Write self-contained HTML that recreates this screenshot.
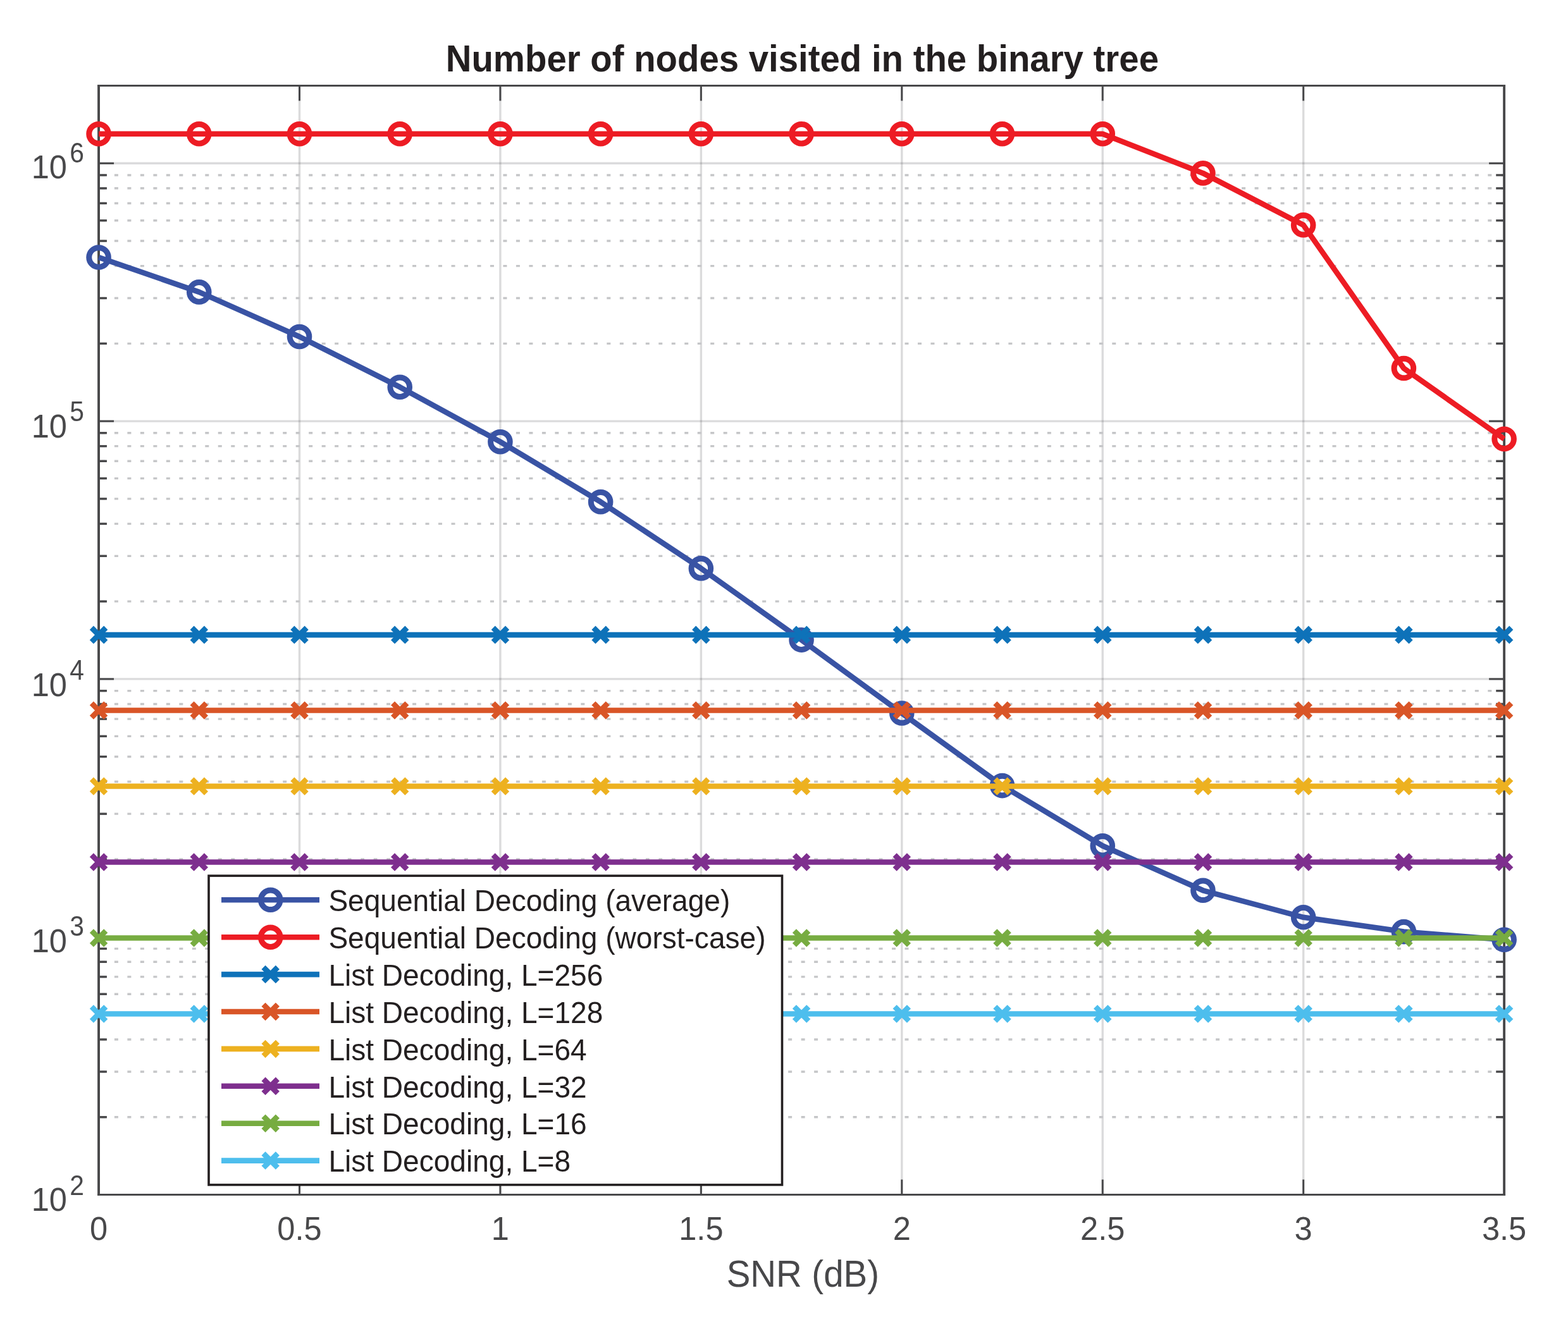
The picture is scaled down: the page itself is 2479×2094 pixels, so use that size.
<!DOCTYPE html>
<html lang="en">
<head>
<meta charset="utf-8">
<title>Number of nodes visited in the binary tree</title>
<style>
html,body{margin:0;padding:0;background:#fff;}
body{width:2479px;height:2094px;overflow:hidden;}
svg{display:block;}
text{font-family:"Liberation Sans", Arial, Helvetica, sans-serif;white-space:pre;}
</style>
</head>
<body>
<svg width="2479" height="2094" viewBox="0 0 2479 2094">
<rect x="0" y="0" width="2479" height="2094" fill="#ffffff"/>
<g stroke="#2a2c30" stroke-opacity="0.17" stroke-width="3.4" fill="none">
<line x1="473.49" y1="135.40" x2="473.49" y2="1889.55"/>
<line x1="790.92" y1="135.40" x2="790.92" y2="1889.55"/>
<line x1="1108.36" y1="135.40" x2="1108.36" y2="1889.55"/>
<line x1="1425.79" y1="135.40" x2="1425.79" y2="1889.55"/>
<line x1="1743.23" y1="135.40" x2="1743.23" y2="1889.55"/>
<line x1="2060.66" y1="135.40" x2="2060.66" y2="1889.55"/>
<line x1="156.05" y1="1481.74" x2="2378.10" y2="1481.74"/>
<line x1="156.05" y1="1073.92" x2="2378.10" y2="1073.92"/>
<line x1="156.05" y1="666.11" x2="2378.10" y2="666.11"/>
<line x1="156.05" y1="258.30" x2="2378.10" y2="258.30"/>
</g>
<g stroke="#c5c6c8" stroke-width="3.4" fill="none" stroke-dasharray="6.000 14.485" stroke-dashoffset="16.120">
<line x1="156.05" y1="1766.79" x2="2378.10" y2="1766.79"/>
<line x1="156.05" y1="1694.97" x2="2378.10" y2="1694.97"/>
<line x1="156.05" y1="1644.02" x2="2378.10" y2="1644.02"/>
<line x1="156.05" y1="1604.50" x2="2378.10" y2="1604.50"/>
<line x1="156.05" y1="1572.21" x2="2378.10" y2="1572.21"/>
<line x1="156.05" y1="1544.91" x2="2378.10" y2="1544.91"/>
<line x1="156.05" y1="1521.26" x2="2378.10" y2="1521.26"/>
<line x1="156.05" y1="1500.40" x2="2378.10" y2="1500.40"/>
<line x1="156.05" y1="1358.97" x2="2378.10" y2="1358.97"/>
<line x1="156.05" y1="1287.16" x2="2378.10" y2="1287.16"/>
<line x1="156.05" y1="1236.21" x2="2378.10" y2="1236.21"/>
<line x1="156.05" y1="1196.69" x2="2378.10" y2="1196.69"/>
<line x1="156.05" y1="1164.40" x2="2378.10" y2="1164.40"/>
<line x1="156.05" y1="1137.10" x2="2378.10" y2="1137.10"/>
<line x1="156.05" y1="1113.45" x2="2378.10" y2="1113.45"/>
<line x1="156.05" y1="1092.59" x2="2378.10" y2="1092.59"/>
<line x1="156.05" y1="951.16" x2="2378.10" y2="951.16"/>
<line x1="156.05" y1="879.35" x2="2378.10" y2="879.35"/>
<line x1="156.05" y1="828.40" x2="2378.10" y2="828.40"/>
<line x1="156.05" y1="788.88" x2="2378.10" y2="788.88"/>
<line x1="156.05" y1="756.59" x2="2378.10" y2="756.59"/>
<line x1="156.05" y1="729.28" x2="2378.10" y2="729.28"/>
<line x1="156.05" y1="705.63" x2="2378.10" y2="705.63"/>
<line x1="156.05" y1="684.77" x2="2378.10" y2="684.77"/>
<line x1="156.05" y1="543.35" x2="2378.10" y2="543.35"/>
<line x1="156.05" y1="471.54" x2="2378.10" y2="471.54"/>
<line x1="156.05" y1="420.58" x2="2378.10" y2="420.58"/>
<line x1="156.05" y1="381.06" x2="2378.10" y2="381.06"/>
<line x1="156.05" y1="348.77" x2="2378.10" y2="348.77"/>
<line x1="156.05" y1="321.47" x2="2378.10" y2="321.47"/>
<line x1="156.05" y1="297.82" x2="2378.10" y2="297.82"/>
<line x1="156.05" y1="276.96" x2="2378.10" y2="276.96"/>
</g>
<g stroke="#48484a" stroke-width="3.0" fill="none">
<line x1="473.49" y1="1889.55" x2="473.49" y2="1865.55"/>
<line x1="473.49" y1="135.40" x2="473.49" y2="159.40"/>
<line x1="790.92" y1="1889.55" x2="790.92" y2="1865.55"/>
<line x1="790.92" y1="135.40" x2="790.92" y2="159.40"/>
<line x1="1108.36" y1="1889.55" x2="1108.36" y2="1865.55"/>
<line x1="1108.36" y1="135.40" x2="1108.36" y2="159.40"/>
<line x1="1425.79" y1="1889.55" x2="1425.79" y2="1865.55"/>
<line x1="1425.79" y1="135.40" x2="1425.79" y2="159.40"/>
<line x1="1743.23" y1="1889.55" x2="1743.23" y2="1865.55"/>
<line x1="1743.23" y1="135.40" x2="1743.23" y2="159.40"/>
<line x1="2060.66" y1="1889.55" x2="2060.66" y2="1865.55"/>
<line x1="2060.66" y1="135.40" x2="2060.66" y2="159.40"/>
<line x1="156.05" y1="1481.74" x2="180.05" y2="1481.74"/>
<line x1="2378.10" y1="1481.74" x2="2354.10" y2="1481.74"/>
<line x1="156.05" y1="1073.92" x2="180.05" y2="1073.92"/>
<line x1="2378.10" y1="1073.92" x2="2354.10" y2="1073.92"/>
<line x1="156.05" y1="666.11" x2="180.05" y2="666.11"/>
<line x1="2378.10" y1="666.11" x2="2354.10" y2="666.11"/>
<line x1="156.05" y1="258.30" x2="180.05" y2="258.30"/>
<line x1="2378.10" y1="258.30" x2="2354.10" y2="258.30"/>
</g>
<g stroke="#48484a" stroke-width="3.4" fill="none">
<line x1="156.05" y1="1766.79" x2="168.95" y2="1766.79"/>
<line x1="2378.10" y1="1766.79" x2="2365.20" y2="1766.79"/>
<line x1="156.05" y1="1694.97" x2="168.95" y2="1694.97"/>
<line x1="2378.10" y1="1694.97" x2="2365.20" y2="1694.97"/>
<line x1="156.05" y1="1644.02" x2="168.95" y2="1644.02"/>
<line x1="2378.10" y1="1644.02" x2="2365.20" y2="1644.02"/>
<line x1="156.05" y1="1604.50" x2="168.95" y2="1604.50"/>
<line x1="2378.10" y1="1604.50" x2="2365.20" y2="1604.50"/>
<line x1="156.05" y1="1572.21" x2="168.95" y2="1572.21"/>
<line x1="2378.10" y1="1572.21" x2="2365.20" y2="1572.21"/>
<line x1="156.05" y1="1544.91" x2="168.95" y2="1544.91"/>
<line x1="2378.10" y1="1544.91" x2="2365.20" y2="1544.91"/>
<line x1="156.05" y1="1521.26" x2="168.95" y2="1521.26"/>
<line x1="2378.10" y1="1521.26" x2="2365.20" y2="1521.26"/>
<line x1="156.05" y1="1500.40" x2="168.95" y2="1500.40"/>
<line x1="2378.10" y1="1500.40" x2="2365.20" y2="1500.40"/>
<line x1="156.05" y1="1358.97" x2="168.95" y2="1358.97"/>
<line x1="2378.10" y1="1358.97" x2="2365.20" y2="1358.97"/>
<line x1="156.05" y1="1287.16" x2="168.95" y2="1287.16"/>
<line x1="2378.10" y1="1287.16" x2="2365.20" y2="1287.16"/>
<line x1="156.05" y1="1236.21" x2="168.95" y2="1236.21"/>
<line x1="2378.10" y1="1236.21" x2="2365.20" y2="1236.21"/>
<line x1="156.05" y1="1196.69" x2="168.95" y2="1196.69"/>
<line x1="2378.10" y1="1196.69" x2="2365.20" y2="1196.69"/>
<line x1="156.05" y1="1164.40" x2="168.95" y2="1164.40"/>
<line x1="2378.10" y1="1164.40" x2="2365.20" y2="1164.40"/>
<line x1="156.05" y1="1137.10" x2="168.95" y2="1137.10"/>
<line x1="2378.10" y1="1137.10" x2="2365.20" y2="1137.10"/>
<line x1="156.05" y1="1113.45" x2="168.95" y2="1113.45"/>
<line x1="2378.10" y1="1113.45" x2="2365.20" y2="1113.45"/>
<line x1="156.05" y1="1092.59" x2="168.95" y2="1092.59"/>
<line x1="2378.10" y1="1092.59" x2="2365.20" y2="1092.59"/>
<line x1="156.05" y1="951.16" x2="168.95" y2="951.16"/>
<line x1="2378.10" y1="951.16" x2="2365.20" y2="951.16"/>
<line x1="156.05" y1="879.35" x2="168.95" y2="879.35"/>
<line x1="2378.10" y1="879.35" x2="2365.20" y2="879.35"/>
<line x1="156.05" y1="828.40" x2="168.95" y2="828.40"/>
<line x1="2378.10" y1="828.40" x2="2365.20" y2="828.40"/>
<line x1="156.05" y1="788.88" x2="168.95" y2="788.88"/>
<line x1="2378.10" y1="788.88" x2="2365.20" y2="788.88"/>
<line x1="156.05" y1="756.59" x2="168.95" y2="756.59"/>
<line x1="2378.10" y1="756.59" x2="2365.20" y2="756.59"/>
<line x1="156.05" y1="729.28" x2="168.95" y2="729.28"/>
<line x1="2378.10" y1="729.28" x2="2365.20" y2="729.28"/>
<line x1="156.05" y1="705.63" x2="168.95" y2="705.63"/>
<line x1="2378.10" y1="705.63" x2="2365.20" y2="705.63"/>
<line x1="156.05" y1="684.77" x2="168.95" y2="684.77"/>
<line x1="2378.10" y1="684.77" x2="2365.20" y2="684.77"/>
<line x1="156.05" y1="543.35" x2="168.95" y2="543.35"/>
<line x1="2378.10" y1="543.35" x2="2365.20" y2="543.35"/>
<line x1="156.05" y1="471.54" x2="168.95" y2="471.54"/>
<line x1="2378.10" y1="471.54" x2="2365.20" y2="471.54"/>
<line x1="156.05" y1="420.58" x2="168.95" y2="420.58"/>
<line x1="2378.10" y1="420.58" x2="2365.20" y2="420.58"/>
<line x1="156.05" y1="381.06" x2="168.95" y2="381.06"/>
<line x1="2378.10" y1="381.06" x2="2365.20" y2="381.06"/>
<line x1="156.05" y1="348.77" x2="168.95" y2="348.77"/>
<line x1="2378.10" y1="348.77" x2="2365.20" y2="348.77"/>
<line x1="156.05" y1="321.47" x2="168.95" y2="321.47"/>
<line x1="2378.10" y1="321.47" x2="2365.20" y2="321.47"/>
<line x1="156.05" y1="297.82" x2="168.95" y2="297.82"/>
<line x1="2378.10" y1="297.82" x2="2365.20" y2="297.82"/>
<line x1="156.05" y1="276.96" x2="168.95" y2="276.96"/>
<line x1="2378.10" y1="276.96" x2="2365.20" y2="276.96"/>
</g>
<g stroke="#48484a" fill="none">
<line x1="154.10" y1="135.40" x2="2380.05" y2="135.40" stroke-width="3.00"/>
<line x1="154.10" y1="1889.55" x2="2380.05" y2="1889.55" stroke-width="3.00"/>
<line x1="156.05" y1="133.90" x2="156.05" y2="1891.05" stroke-width="3.90"/>
<line x1="2378.10" y1="133.90" x2="2378.10" y2="1891.05" stroke-width="3.90"/>
</g>
<g stroke="#3953a4" fill="none">
<polyline points="156.05,407.00 314.77,461.90 473.49,532.50 632.20,612.20 790.92,698.70 949.64,793.80 1108.36,898.90 1267.07,1012.10 1425.79,1128.00 1584.51,1242.60 1743.23,1337.70 1901.95,1408.30 2060.66,1450.80 2219.38,1473.60 2378.10,1486.20" stroke-width="8.60" stroke-linejoin="round"/>
<circle cx="156.05" cy="407.00" r="15.30" stroke-width="9.00"/>
<circle cx="314.77" cy="461.90" r="15.30" stroke-width="9.00"/>
<circle cx="473.49" cy="532.50" r="15.30" stroke-width="9.00"/>
<circle cx="632.20" cy="612.20" r="15.30" stroke-width="9.00"/>
<circle cx="790.92" cy="698.70" r="15.30" stroke-width="9.00"/>
<circle cx="949.64" cy="793.80" r="15.30" stroke-width="9.00"/>
<circle cx="1108.36" cy="898.90" r="15.30" stroke-width="9.00"/>
<circle cx="1267.07" cy="1012.10" r="15.30" stroke-width="9.00"/>
<circle cx="1425.79" cy="1128.00" r="15.30" stroke-width="9.00"/>
<circle cx="1584.51" cy="1242.60" r="15.30" stroke-width="9.00"/>
<circle cx="1743.23" cy="1337.70" r="15.30" stroke-width="9.00"/>
<circle cx="1901.95" cy="1408.30" r="15.30" stroke-width="9.00"/>
<circle cx="2060.66" cy="1450.80" r="15.30" stroke-width="9.00"/>
<circle cx="2219.38" cy="1473.60" r="15.30" stroke-width="9.00"/>
<circle cx="2378.10" cy="1486.20" r="15.30" stroke-width="9.00"/>
</g>
<g stroke="#ed1c24" fill="none">
<polyline points="156.05,211.70 314.77,211.70 473.49,211.70 632.20,211.70 790.92,211.70 949.64,211.70 1108.36,211.70 1267.07,211.70 1425.79,211.70 1584.51,211.70 1743.23,211.70 1901.95,273.90 2060.66,355.90 2219.38,582.50 2378.10,694.20" stroke-width="8.60" stroke-linejoin="round"/>
<circle cx="156.05" cy="211.70" r="15.30" stroke-width="9.00"/>
<circle cx="314.77" cy="211.70" r="15.30" stroke-width="9.00"/>
<circle cx="473.49" cy="211.70" r="15.30" stroke-width="9.00"/>
<circle cx="632.20" cy="211.70" r="15.30" stroke-width="9.00"/>
<circle cx="790.92" cy="211.70" r="15.30" stroke-width="9.00"/>
<circle cx="949.64" cy="211.70" r="15.30" stroke-width="9.00"/>
<circle cx="1108.36" cy="211.70" r="15.30" stroke-width="9.00"/>
<circle cx="1267.07" cy="211.70" r="15.30" stroke-width="9.00"/>
<circle cx="1425.79" cy="211.70" r="15.30" stroke-width="9.00"/>
<circle cx="1584.51" cy="211.70" r="15.30" stroke-width="9.00"/>
<circle cx="1743.23" cy="211.70" r="15.30" stroke-width="9.00"/>
<circle cx="1901.95" cy="273.90" r="15.30" stroke-width="9.00"/>
<circle cx="2060.66" cy="355.90" r="15.30" stroke-width="9.00"/>
<circle cx="2219.38" cy="582.50" r="15.30" stroke-width="9.00"/>
<circle cx="2378.10" cy="694.20" r="15.30" stroke-width="9.00"/>
</g>
<g stroke="#0e72b9" fill="none" stroke-width="8.60">
<line x1="156.05" y1="1004.10" x2="2378.10" y2="1004.10"/>
<path d="M144.85 992.90L167.25 1015.30M144.85 1015.30L167.25 992.90"/>
<path d="M303.57 992.90L325.97 1015.30M303.57 1015.30L325.97 992.90"/>
<path d="M462.29 992.90L484.69 1015.30M462.29 1015.30L484.69 992.90"/>
<path d="M621.00 992.90L643.40 1015.30M621.00 1015.30L643.40 992.90"/>
<path d="M779.72 992.90L802.12 1015.30M779.72 1015.30L802.12 992.90"/>
<path d="M938.44 992.90L960.84 1015.30M938.44 1015.30L960.84 992.90"/>
<path d="M1097.16 992.90L1119.56 1015.30M1097.16 1015.30L1119.56 992.90"/>
<path d="M1255.87 992.90L1278.27 1015.30M1255.87 1015.30L1278.27 992.90"/>
<path d="M1414.59 992.90L1436.99 1015.30M1414.59 1015.30L1436.99 992.90"/>
<path d="M1573.31 992.90L1595.71 1015.30M1573.31 1015.30L1595.71 992.90"/>
<path d="M1732.03 992.90L1754.43 1015.30M1732.03 1015.30L1754.43 992.90"/>
<path d="M1890.75 992.90L1913.15 1015.30M1890.75 1015.30L1913.15 992.90"/>
<path d="M2049.46 992.90L2071.86 1015.30M2049.46 1015.30L2071.86 992.90"/>
<path d="M2208.18 992.90L2230.58 1015.30M2208.18 1015.30L2230.58 992.90"/>
<path d="M2366.90 992.90L2389.30 1015.30M2366.90 1015.30L2389.30 992.90"/>
</g>
<g stroke="#d95527" fill="none" stroke-width="8.60">
<line x1="156.05" y1="1123.50" x2="2378.10" y2="1123.50"/>
<path d="M144.85 1112.30L167.25 1134.70M144.85 1134.70L167.25 1112.30"/>
<path d="M303.57 1112.30L325.97 1134.70M303.57 1134.70L325.97 1112.30"/>
<path d="M462.29 1112.30L484.69 1134.70M462.29 1134.70L484.69 1112.30"/>
<path d="M621.00 1112.30L643.40 1134.70M621.00 1134.70L643.40 1112.30"/>
<path d="M779.72 1112.30L802.12 1134.70M779.72 1134.70L802.12 1112.30"/>
<path d="M938.44 1112.30L960.84 1134.70M938.44 1134.70L960.84 1112.30"/>
<path d="M1097.16 1112.30L1119.56 1134.70M1097.16 1134.70L1119.56 1112.30"/>
<path d="M1255.87 1112.30L1278.27 1134.70M1255.87 1134.70L1278.27 1112.30"/>
<path d="M1414.59 1112.30L1436.99 1134.70M1414.59 1134.70L1436.99 1112.30"/>
<path d="M1573.31 1112.30L1595.71 1134.70M1573.31 1134.70L1595.71 1112.30"/>
<path d="M1732.03 1112.30L1754.43 1134.70M1732.03 1134.70L1754.43 1112.30"/>
<path d="M1890.75 1112.30L1913.15 1134.70M1890.75 1134.70L1913.15 1112.30"/>
<path d="M2049.46 1112.30L2071.86 1134.70M2049.46 1134.70L2071.86 1112.30"/>
<path d="M2208.18 1112.30L2230.58 1134.70M2208.18 1134.70L2230.58 1112.30"/>
<path d="M2366.90 1112.30L2389.30 1134.70M2366.90 1134.70L2389.30 1112.30"/>
</g>
<g stroke="#edb120" fill="none" stroke-width="8.60">
<line x1="156.05" y1="1243.50" x2="2378.10" y2="1243.50"/>
<path d="M144.85 1232.30L167.25 1254.70M144.85 1254.70L167.25 1232.30"/>
<path d="M303.57 1232.30L325.97 1254.70M303.57 1254.70L325.97 1232.30"/>
<path d="M462.29 1232.30L484.69 1254.70M462.29 1254.70L484.69 1232.30"/>
<path d="M621.00 1232.30L643.40 1254.70M621.00 1254.70L643.40 1232.30"/>
<path d="M779.72 1232.30L802.12 1254.70M779.72 1254.70L802.12 1232.30"/>
<path d="M938.44 1232.30L960.84 1254.70M938.44 1254.70L960.84 1232.30"/>
<path d="M1097.16 1232.30L1119.56 1254.70M1097.16 1254.70L1119.56 1232.30"/>
<path d="M1255.87 1232.30L1278.27 1254.70M1255.87 1254.70L1278.27 1232.30"/>
<path d="M1414.59 1232.30L1436.99 1254.70M1414.59 1254.70L1436.99 1232.30"/>
<path d="M1573.31 1232.30L1595.71 1254.70M1573.31 1254.70L1595.71 1232.30"/>
<path d="M1732.03 1232.30L1754.43 1254.70M1732.03 1254.70L1754.43 1232.30"/>
<path d="M1890.75 1232.30L1913.15 1254.70M1890.75 1254.70L1913.15 1232.30"/>
<path d="M2049.46 1232.30L2071.86 1254.70M2049.46 1254.70L2071.86 1232.30"/>
<path d="M2208.18 1232.30L2230.58 1254.70M2208.18 1254.70L2230.58 1232.30"/>
<path d="M2366.90 1232.30L2389.30 1254.70M2366.90 1254.70L2389.30 1232.30"/>
</g>
<g stroke="#7e2f8e" fill="none" stroke-width="8.60">
<line x1="156.05" y1="1363.50" x2="2378.10" y2="1363.50"/>
<path d="M144.85 1352.30L167.25 1374.70M144.85 1374.70L167.25 1352.30"/>
<path d="M303.57 1352.30L325.97 1374.70M303.57 1374.70L325.97 1352.30"/>
<path d="M462.29 1352.30L484.69 1374.70M462.29 1374.70L484.69 1352.30"/>
<path d="M621.00 1352.30L643.40 1374.70M621.00 1374.70L643.40 1352.30"/>
<path d="M779.72 1352.30L802.12 1374.70M779.72 1374.70L802.12 1352.30"/>
<path d="M938.44 1352.30L960.84 1374.70M938.44 1374.70L960.84 1352.30"/>
<path d="M1097.16 1352.30L1119.56 1374.70M1097.16 1374.70L1119.56 1352.30"/>
<path d="M1255.87 1352.30L1278.27 1374.70M1255.87 1374.70L1278.27 1352.30"/>
<path d="M1414.59 1352.30L1436.99 1374.70M1414.59 1374.70L1436.99 1352.30"/>
<path d="M1573.31 1352.30L1595.71 1374.70M1573.31 1374.70L1595.71 1352.30"/>
<path d="M1732.03 1352.30L1754.43 1374.70M1732.03 1374.70L1754.43 1352.30"/>
<path d="M1890.75 1352.30L1913.15 1374.70M1890.75 1374.70L1913.15 1352.30"/>
<path d="M2049.46 1352.30L2071.86 1374.70M2049.46 1374.70L2071.86 1352.30"/>
<path d="M2208.18 1352.30L2230.58 1374.70M2208.18 1374.70L2230.58 1352.30"/>
<path d="M2366.90 1352.30L2389.30 1374.70M2366.90 1374.70L2389.30 1352.30"/>
</g>
<g stroke="#77ac41" fill="none" stroke-width="8.60">
<line x1="156.05" y1="1483.50" x2="2378.10" y2="1483.50"/>
<path d="M144.85 1472.30L167.25 1494.70M144.85 1494.70L167.25 1472.30"/>
<path d="M303.57 1472.30L325.97 1494.70M303.57 1494.70L325.97 1472.30"/>
<path d="M462.29 1472.30L484.69 1494.70M462.29 1494.70L484.69 1472.30"/>
<path d="M621.00 1472.30L643.40 1494.70M621.00 1494.70L643.40 1472.30"/>
<path d="M779.72 1472.30L802.12 1494.70M779.72 1494.70L802.12 1472.30"/>
<path d="M938.44 1472.30L960.84 1494.70M938.44 1494.70L960.84 1472.30"/>
<path d="M1097.16 1472.30L1119.56 1494.70M1097.16 1494.70L1119.56 1472.30"/>
<path d="M1255.87 1472.30L1278.27 1494.70M1255.87 1494.70L1278.27 1472.30"/>
<path d="M1414.59 1472.30L1436.99 1494.70M1414.59 1494.70L1436.99 1472.30"/>
<path d="M1573.31 1472.30L1595.71 1494.70M1573.31 1494.70L1595.71 1472.30"/>
<path d="M1732.03 1472.30L1754.43 1494.70M1732.03 1494.70L1754.43 1472.30"/>
<path d="M1890.75 1472.30L1913.15 1494.70M1890.75 1494.70L1913.15 1472.30"/>
<path d="M2049.46 1472.30L2071.86 1494.70M2049.46 1494.70L2071.86 1472.30"/>
<path d="M2208.18 1472.30L2230.58 1494.70M2208.18 1494.70L2230.58 1472.30"/>
<path d="M2366.90 1472.30L2389.30 1494.70M2366.90 1494.70L2389.30 1472.30"/>
</g>
<g stroke="#4dbeed" fill="none" stroke-width="8.60">
<line x1="156.05" y1="1603.50" x2="2378.10" y2="1603.50"/>
<path d="M144.85 1592.30L167.25 1614.70M144.85 1614.70L167.25 1592.30"/>
<path d="M303.57 1592.30L325.97 1614.70M303.57 1614.70L325.97 1592.30"/>
<path d="M462.29 1592.30L484.69 1614.70M462.29 1614.70L484.69 1592.30"/>
<path d="M621.00 1592.30L643.40 1614.70M621.00 1614.70L643.40 1592.30"/>
<path d="M779.72 1592.30L802.12 1614.70M779.72 1614.70L802.12 1592.30"/>
<path d="M938.44 1592.30L960.84 1614.70M938.44 1614.70L960.84 1592.30"/>
<path d="M1097.16 1592.30L1119.56 1614.70M1097.16 1614.70L1119.56 1592.30"/>
<path d="M1255.87 1592.30L1278.27 1614.70M1255.87 1614.70L1278.27 1592.30"/>
<path d="M1414.59 1592.30L1436.99 1614.70M1414.59 1614.70L1436.99 1592.30"/>
<path d="M1573.31 1592.30L1595.71 1614.70M1573.31 1614.70L1595.71 1592.30"/>
<path d="M1732.03 1592.30L1754.43 1614.70M1732.03 1614.70L1754.43 1592.30"/>
<path d="M1890.75 1592.30L1913.15 1614.70M1890.75 1614.70L1913.15 1592.30"/>
<path d="M2049.46 1592.30L2071.86 1614.70M2049.46 1614.70L2071.86 1592.30"/>
<path d="M2208.18 1592.30L2230.58 1614.70M2208.18 1614.70L2230.58 1592.30"/>
<path d="M2366.90 1592.30L2389.30 1614.70M2366.90 1614.70L2389.30 1592.30"/>
</g>
<rect x="330.00" y="1385.10" width="906.50" height="488.80" fill="#ffffff" stroke="#231f20" stroke-width="3.6"/>
<g stroke="#3953a4" fill="none" stroke-width="8.60">
<line x1="350.00" y1="1423.30" x2="505.00" y2="1423.30"/>
<circle cx="427.70" cy="1423.30" r="15.30" stroke-width="9.00"/>
</g>
<text x="519.40" y="1441.05" font-size="47.80" fill="#231f20" textLength="634.88" lengthAdjust="spacingAndGlyphs">Sequential Decoding (average)</text>
<g stroke="#ed1c24" fill="none" stroke-width="8.60">
<line x1="350.00" y1="1482.20" x2="505.00" y2="1482.20"/>
<circle cx="427.70" cy="1482.20" r="15.30" stroke-width="9.00"/>
</g>
<text x="519.40" y="1499.95" font-size="47.80" fill="#231f20" textLength="691.09" lengthAdjust="spacingAndGlyphs">Sequential Decoding (worst-case)</text>
<g stroke="#0e72b9" fill="none" stroke-width="8.60">
<line x1="350.00" y1="1541.10" x2="505.00" y2="1541.10"/>
<path d="M416.50 1529.90L438.90 1552.30M416.50 1552.30L438.90 1529.90"/>
</g>
<text x="519.40" y="1558.85" font-size="47.80" fill="#231f20" textLength="433.95" lengthAdjust="spacingAndGlyphs">List Decoding, L=256</text>
<g stroke="#d95527" fill="none" stroke-width="8.60">
<line x1="350.00" y1="1600.00" x2="505.00" y2="1600.00"/>
<path d="M416.50 1588.80L438.90 1611.20M416.50 1611.20L438.90 1588.80"/>
</g>
<text x="519.40" y="1617.75" font-size="47.80" fill="#231f20" textLength="433.95" lengthAdjust="spacingAndGlyphs">List Decoding, L=128</text>
<g stroke="#edb120" fill="none" stroke-width="8.60">
<line x1="350.00" y1="1658.90" x2="505.00" y2="1658.90"/>
<path d="M416.50 1647.70L438.90 1670.10M416.50 1670.10L438.90 1647.70"/>
</g>
<text x="519.40" y="1676.65" font-size="47.80" fill="#231f20" textLength="408.34" lengthAdjust="spacingAndGlyphs">List Decoding, L=64</text>
<g stroke="#7e2f8e" fill="none" stroke-width="8.60">
<line x1="350.00" y1="1717.80" x2="505.00" y2="1717.80"/>
<path d="M416.50 1706.60L438.90 1729.00M416.50 1729.00L438.90 1706.60"/>
</g>
<text x="519.40" y="1735.55" font-size="47.80" fill="#231f20" textLength="408.34" lengthAdjust="spacingAndGlyphs">List Decoding, L=32</text>
<g stroke="#77ac41" fill="none" stroke-width="8.60">
<line x1="350.00" y1="1776.70" x2="505.00" y2="1776.70"/>
<path d="M416.50 1765.50L438.90 1787.90M416.50 1787.90L438.90 1765.50"/>
</g>
<text x="519.40" y="1794.45" font-size="47.80" fill="#231f20" textLength="408.34" lengthAdjust="spacingAndGlyphs">List Decoding, L=16</text>
<g stroke="#4dbeed" fill="none" stroke-width="8.60">
<line x1="350.00" y1="1835.60" x2="505.00" y2="1835.60"/>
<path d="M416.50 1824.40L438.90 1846.80M416.50 1846.80L438.90 1824.40"/>
</g>
<text x="519.40" y="1853.35" font-size="47.80" fill="#231f20" textLength="382.73" lengthAdjust="spacingAndGlyphs">List Decoding, L=8</text>
<text x="141.98" y="1961.10" font-size="52.00" fill="#48484a" textLength="28.14" lengthAdjust="spacingAndGlyphs">0</text>
<text x="438.31" y="1961.10" font-size="52.00" fill="#48484a" textLength="70.34" lengthAdjust="spacingAndGlyphs">0.5</text>
<text x="776.85" y="1961.10" font-size="52.00" fill="#48484a" textLength="28.14" lengthAdjust="spacingAndGlyphs">1</text>
<text x="1073.19" y="1961.10" font-size="52.00" fill="#48484a" textLength="70.34" lengthAdjust="spacingAndGlyphs">1.5</text>
<text x="1411.72" y="1961.10" font-size="52.00" fill="#48484a" textLength="28.14" lengthAdjust="spacingAndGlyphs">2</text>
<text x="1708.06" y="1961.10" font-size="52.00" fill="#48484a" textLength="70.34" lengthAdjust="spacingAndGlyphs">2.5</text>
<text x="2046.59" y="1961.10" font-size="52.00" fill="#48484a" textLength="28.14" lengthAdjust="spacingAndGlyphs">3</text>
<text x="2342.93" y="1961.10" font-size="52.00" fill="#48484a" textLength="70.34" lengthAdjust="spacingAndGlyphs">3.5</text>
<text x="49.70" y="1915.10" font-size="51.60" fill="#48484a" textLength="56.28" lengthAdjust="spacingAndGlyphs">10</text>
<text x="110.30" y="1889.50" font-size="43.60" fill="#48484a" textLength="22.69" lengthAdjust="spacingAndGlyphs">2</text>
<text x="49.70" y="1505.90" font-size="51.60" fill="#48484a" textLength="56.28" lengthAdjust="spacingAndGlyphs">10</text>
<text x="110.30" y="1480.30" font-size="43.60" fill="#48484a" textLength="22.69" lengthAdjust="spacingAndGlyphs">3</text>
<text x="49.70" y="1101.00" font-size="51.60" fill="#48484a" textLength="56.28" lengthAdjust="spacingAndGlyphs">10</text>
<text x="110.30" y="1075.40" font-size="43.60" fill="#48484a" textLength="22.69" lengthAdjust="spacingAndGlyphs">4</text>
<text x="49.70" y="691.90" font-size="51.60" fill="#48484a" textLength="56.28" lengthAdjust="spacingAndGlyphs">10</text>
<text x="110.30" y="666.30" font-size="43.60" fill="#48484a" textLength="22.69" lengthAdjust="spacingAndGlyphs">5</text>
<text x="49.70" y="282.40" font-size="51.60" fill="#48484a" textLength="56.28" lengthAdjust="spacingAndGlyphs">10</text>
<text x="110.30" y="256.80" font-size="43.60" fill="#48484a" textLength="22.69" lengthAdjust="spacingAndGlyphs">6</text>
<text x="1148.63" y="2035.10" font-size="58.60" fill="#48484a" textLength="241.30" lengthAdjust="spacingAndGlyphs">SNR (dB)</text>
<text x="704.76" y="113.00" font-size="59.00" font-weight="bold" fill="#231f20" textLength="1127.23" lengthAdjust="spacingAndGlyphs">Number of nodes visited in the binary tree</text>
</svg>
</body>
</html>
